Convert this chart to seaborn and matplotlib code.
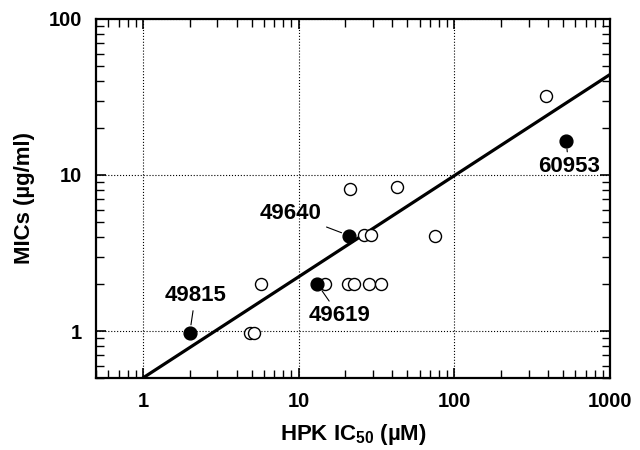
import matplotlib
matplotlib.use("Agg")
import matplotlib.pyplot as plt
import seaborn as sns
import pandas as pd
from matplotlib.ticker import LogLocator, FixedLocator, NullFormatter

# ---- data ----
open_ic50 = [4.9, 5.2, 5.7, 14.8, 20.7, 22.7, 28.2, 34.1, 26.3, 29.4, 21.3, 42.6, 75.6, 388]
open_mic = [0.97, 0.97, 2.0, 2.0, 2.0, 2.0, 2.0, 2.0, 4.1, 4.1, 8.1, 8.4, 4.05, 32]

filled_names = ["49815", "49619", "49640", "60953"]
filled_ic50 = [2.0, 13.2, 21.2, 523]
filled_mic = [0.97, 2.0, 4.08, 16.6]

fit_ic50 = [1.0, 1000.0]
fit_mic = [0.5, 44.0]

x_ticks = [1, 10, 100, 1000]
x_ticklabels = ["1", "10", "100", "1000"]
y_ticks = [1, 10, 100]
y_ticklabels = ["1", "10", "100"]

# label offsets (points) for the annotated compounds
label_offsets = {"49815": (4, 27), "49619": (16, -23), "49640": (-42, 16), "60953": (2, -19)}

sns.set_theme(style="white")
plt.rcParams["font.family"] = ["Liberation Sans", "DejaVu Sans"]
plt.rcParams["mathtext.fontset"] = "custom"
plt.rcParams["mathtext.rm"] = "Liberation Sans:bold"
plt.rcParams["mathtext.it"] = "Liberation Sans:bold"
plt.rcParams["mathtext.bf"] = "Liberation Sans:bold"
plt.rcParams["text.color"] = "black"
plt.rcParams["axes.labelcolor"] = "black"
plt.rcParams["xtick.color"] = "black"
plt.rcParams["ytick.color"] = "black"

fig = plt.figure(figsize=(6.4, 4.5), dpi=100)
ax = fig.add_axes([0.15, 0.16, 0.803, 0.798])

ax.set_xscale("log")
ax.set_yscale("log")

df_open = pd.DataFrame({"ic50": open_ic50, "mic": open_mic})
df_filled = pd.DataFrame({"ic50": filled_ic50, "mic": filled_mic, "name": filled_names})
df_fit = pd.DataFrame({"ic50": fit_ic50, "mic": fit_mic})

sns.lineplot(data=df_fit, x="ic50", y="mic", ax=ax, color="black", lw=2.3, zorder=3)
sns.scatterplot(data=df_open, x="ic50", y="mic", ax=ax, s=75, marker="o",
                facecolor="white", edgecolor="black", linewidth=1.0, zorder=4)
sns.scatterplot(data=df_filled, x="ic50", y="mic", ax=ax, s=85, marker="o",
                color="black", edgecolor="black", linewidth=1.0, zorder=5)

for name, xv, yv in zip(filled_names, filled_ic50, filled_mic):
    ax.annotate(name, xy=(xv, yv), xytext=label_offsets[name], textcoords="offset points",
                ha="center", va="center", fontsize=16, fontweight="bold", color="black",
                arrowprops=dict(arrowstyle="-", color="black", lw=0.8, shrinkA=1, shrinkB=6))

ax.set_xlim(0.5, 1000)
ax.set_ylim(0.5, 100)

ax.xaxis.set_major_locator(FixedLocator(x_ticks))
ax.set_xticklabels(x_ticklabels)
ax.yaxis.set_major_locator(FixedLocator(y_ticks))
ax.set_yticklabels(y_ticklabels)
ax.xaxis.set_minor_locator(LogLocator(base=10, subs=range(2, 10)))
ax.yaxis.set_minor_locator(LogLocator(base=10, subs=range(2, 10)))
ax.xaxis.set_minor_formatter(NullFormatter())
ax.yaxis.set_minor_formatter(NullFormatter())

ax.tick_params(which="both", direction="in", top=True, right=True, bottom=True, left=True,
               color="black")
ax.tick_params(which="major", length=7, width=1.2, labelsize=14.5, pad=10)
ax.tick_params(which="minor", length=6, width=1.0)
for lab in ax.get_xticklabels() + ax.get_yticklabels():
    lab.set_fontweight("bold")

ax.grid(True, which="major", linestyle=":", color="black", lw=0.8)
for sp in ax.spines.values():
    sp.set_color("black")
    sp.set_linewidth(1.6)

ax.set_xlabel("HPK IC$_{50}$ (µM)", fontsize=16, fontweight="bold", labelpad=8)
ax.set_ylabel("MICs (µg/ml)", fontsize=16, fontweight="bold", labelpad=10)

fig.savefig("out.png", dpi=100)
